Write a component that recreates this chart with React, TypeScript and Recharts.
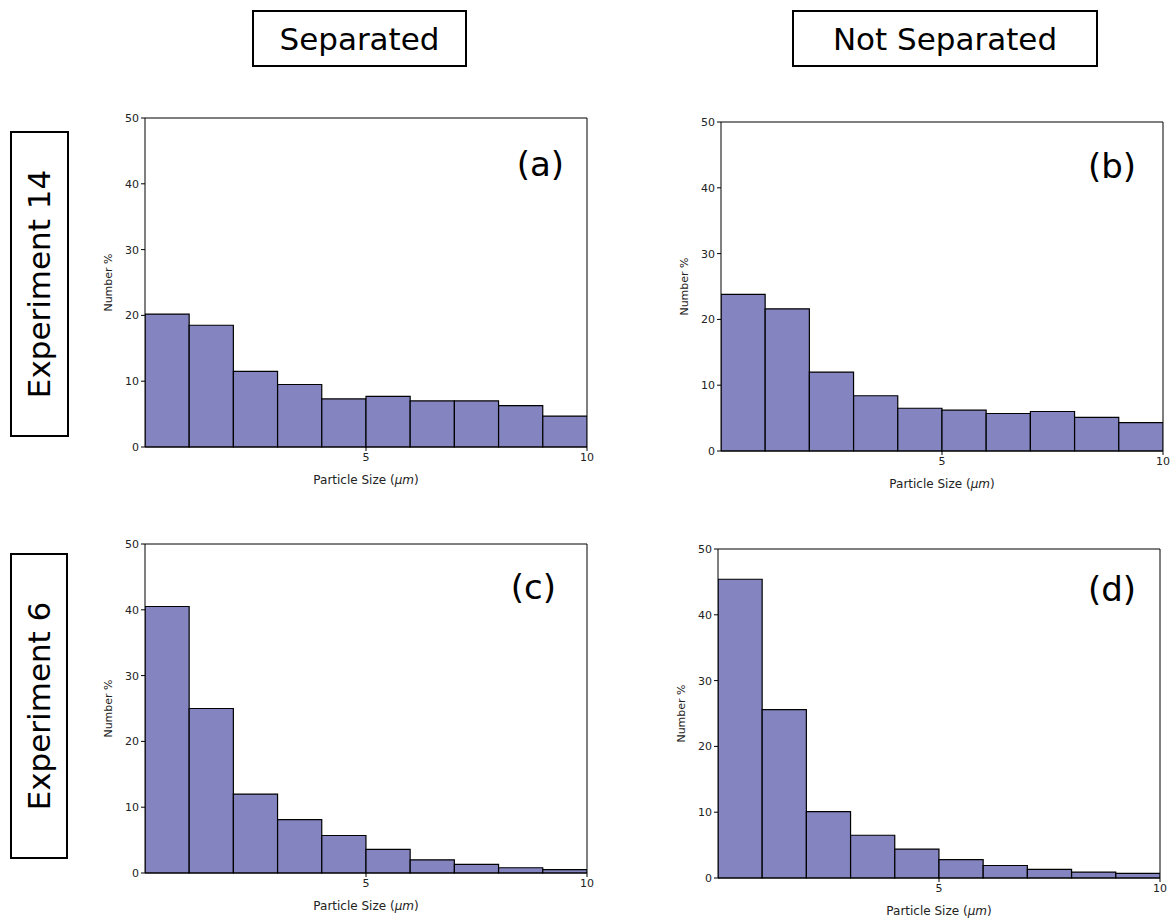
import React from "react";
import { BarChart, Bar, XAxis, YAxis, CartesianGrid } from "recharts";

// histogram bins (width 1 um, 0 to 10), x = bin centre
const binCentres = [0.5, 1.5, 2.5, 3.5, 4.5, 5.5, 6.5, 7.5, 8.5, 9.5];

// Number % per bin
const sep14 = [20.2, 18.5, 11.5, 9.5, 7.3, 7.7, 7.0, 7.0, 6.3, 4.7];
const notSep14 = [23.8, 21.6, 12.0, 8.4, 6.5, 6.2, 5.7, 6.0, 5.1, 4.3];
const sep6 = [40.5, 25.0, 12.0, 8.1, 5.7, 3.6, 2.0, 1.3, 0.8, 0.5];
const notSep6 = [45.4, 25.6, 10.1, 6.5, 4.4, 2.8, 1.9, 1.3, 0.9, 0.7];

const yTicks = [0, 10, 20, 30, 40, 50];
const xTicks = [5, 10];

const FILL = "#8484c0";
const FONT = "'DejaVu Sans', Verdana, sans-serif";

const PLOT_W = 442;
const PLOT_H = 329;
const Y_AXIS_W = 70;
const M_TOP = 12;
const M_RIGHT = 8;
const X_AXIS_H = 40;
const M_BOTTOM = 5;
// a hair under the band width, otherwise recharts shrinks bars to 90%
const BAR_W = PLOT_W / 10 - 0.05;

const XLabel = (props: any) => {
  const { viewBox } = props;
  if (!viewBox) return null;
  const cx = viewBox.x + viewBox.width / 2;
  const cy = viewBox.y + 37;
  return (
    <text x={cx} y={cy} textAnchor="middle" fontSize={12} fontFamily={FONT} fill="#222">
      Particle Size (<tspan fontStyle="italic">μm</tspan>)
    </text>
  );
};

const YLabel = (props: any) => {
  const { viewBox } = props;
  if (!viewBox) return null;
  const cx = viewBox.x + viewBox.width - 33;
  const cy = viewBox.y + viewBox.height / 2;
  return (
    <text
      x={cx}
      y={cy}
      textAnchor="middle"
      fontSize={11}
      fontFamily={FONT}
      fill="#222"
      transform={`rotate(-90, ${cx}, ${cy})`}
    >
      Number %
    </text>
  );
};

// frame lines on the top and right of the plot area
const topEdge = ({ offset }: any) => [offset.top];
const rightEdge = ({ offset }: any) => [offset.left + offset.width];

interface PanelProps {
  values: number[];
  plotLeft: number;
  plotTop: number;
  tag: string;
  tagRight: number;
  tagY: number;
}

const Panel: React.FC<PanelProps> = ({ values, plotLeft, plotTop, tag, tagRight, tagY }) => {
  const data = binCentres.map((x, i) => ({ x, value: values[i] }));
  const tickStyle = { fontSize: 11, fontFamily: FONT, fill: "#222" };
  return (
    <>
      <div
        style={{
          position: "absolute",
          left: plotLeft - Y_AXIS_W,
          top: plotTop - M_TOP,
        }}
      >
        <BarChart
          width={Y_AXIS_W + PLOT_W + M_RIGHT}
          height={M_TOP + PLOT_H + X_AXIS_H + M_BOTTOM}
          data={data}
          margin={{ top: M_TOP, right: M_RIGHT, bottom: M_BOTTOM, left: 0 }}
          barCategoryGap={0}
          barGap={0}
        >
          <CartesianGrid
            stroke="#000"
            strokeOpacity={1}
            horizontalCoordinatesGenerator={topEdge}
            verticalCoordinatesGenerator={rightEdge}
          />
          <XAxis
            dataKey="x"
            type="number"
            domain={[0, 10]}
            ticks={xTicks}
            allowDataOverflow
            height={X_AXIS_H}
            tick={tickStyle}
            tickSize={4}
            tickMargin={2}
            stroke="#000"
            label={<XLabel />}
          />
          <YAxis
            type="number"
            domain={[0, 50]}
            ticks={yTicks}
            width={Y_AXIS_W}
            tick={tickStyle}
            tickSize={4}
            tickMargin={2}
            stroke="#000"
            label={<YLabel />}
          />
          <Bar
            dataKey="value"
            fill={FILL}
            stroke="#000"
            strokeWidth={1.2}
            barSize={BAR_W}
            isAnimationActive={false}
          />
        </BarChart>
      </div>
      <div
        style={{
          position: "absolute",
          right: 1176 - tagRight,
          top: tagY - 20,
          fontFamily: FONT,
          fontSize: 34,
          lineHeight: "40px",
          color: "#000",
        }}
      >
        {tag}
      </div>
    </>
  );
};

const boxStyle: React.CSSProperties = {
  position: "absolute",
  border: "2px solid #000",
  boxSizing: "border-box",
  display: "flex",
  alignItems: "center",
  justifyContent: "center",
  fontFamily: FONT,
  fontSize: 31,
  color: "#000",
  background: "#fff",
};

export default function App() {
  return (
    <div
      style={{
        position: "absolute",
        left: 0,
        top: 0,
        width: 1176,
        height: 920,
        overflow: "hidden",
        background: "#fff",
      }}
    >
      <div style={{ ...boxStyle, left: 252, top: 10, width: 215, height: 57 }}>Separated</div>
      <div style={{ ...boxStyle, left: 792, top: 10, width: 306, height: 57 }}>Not Separated</div>

      <div style={{ ...boxStyle, left: 10, top: 131, width: 59, height: 306 }}>
        <span style={{ transform: "rotate(-90deg)", whiteSpace: "nowrap" }}>Experiment 14</span>
      </div>
      <div style={{ ...boxStyle, left: 10, top: 553, width: 58, height: 306 }}>
        <span style={{ transform: "rotate(-90deg)", whiteSpace: "nowrap" }}>Experiment 6</span>
      </div>

      <Panel values={sep14} plotLeft={145} plotTop={118} tag="(a)" tagRight={564} tagY={164} />
      <Panel values={notSep14} plotLeft={721} plotTop={122} tag="(b)" tagRight={1136} tagY={166} />
      <Panel values={sep6} plotLeft={145} plotTop={544} tag="(c)" tagRight={556} tagY={587} />
      <Panel values={notSep6} plotLeft={718} plotTop={549} tag="(d)" tagRight={1136} tagY={589} />
    </div>
  );
}
